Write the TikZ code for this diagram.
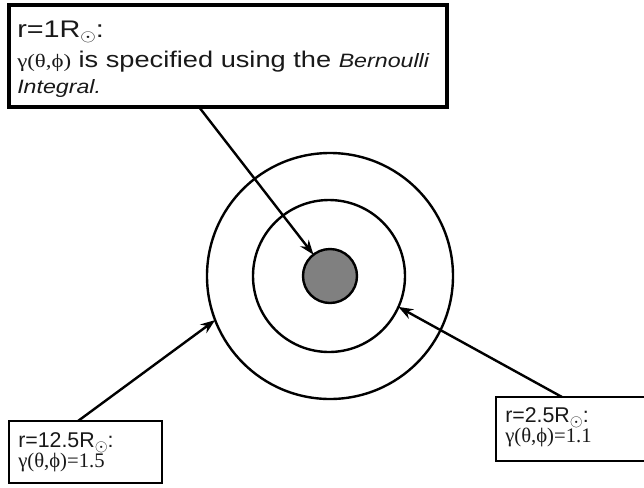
\documentclass[tikz,border=0pt]{standalone}
\usepackage{fontspec}
\usepackage{graphicx}
\setmainfont{Liberation Sans}
\newfontfamily\gr{Liberation Serif}
\usetikzlibrary{arrows.meta}
\newcommand{\sunsub}{\raisebox{-0.2em}{\scalebox{0.72}{$\odot$}}}
\begin{document}
\begin{tikzpicture}[x=0.75pt,y=-0.75pt,
  box/.style={draw=black, line width=2pt, fill=white, inner sep=0pt, outer sep=0pt},
  ring/.style={draw=black, line width=1.8pt, circle, inner sep=0pt, outer sep=0pt},
  arr/.style={line width=1.8pt, -{Stealth[length=11pt,width=8pt]}},
  txt/.style={anchor=base west, inner sep=0pt, text=black!90}]
\useasboundingbox (0,0) rectangle (644,487);
\fill[white] (0,0) rectangle (644,487);
% boxes
\node[box, line width=2.4pt, minimum width=328.5pt, minimum height=76.5pt] (topbox) at (228,56) {};
\node[box, minimum width=114.75pt, minimum height=46.5pt] (leftbox) at (85.5,452) {};
\node[box, minimum width=123pt, minimum height=48pt] (rightbox) at (578,429) {};
% circles
\node[ring, minimum size=184.5pt] (outer) at (330,276) {};
\node[ring, minimum size=114pt] (mid) at (329,276) {};
\node[ring, fill=black!50, minimum size=40.5pt] (inner) at (330,276) {};
% arrows
\coordinate (t1) at (199,107);
\coordinate (l1) at (78,421);
\coordinate (r1) at (562,397);
\draw[arr] (t1) -- (inner);
\draw[arr] (l1) -- (outer.201.5);
\draw[arr] (r1) -- (mid.336);
% texts
\node[txt] (ta) at (17,37) {\scalebox{1.2}[1]{\fontsize{18}{20}\selectfont r=1R\sunsub:}};
\node[txt] (tb) at (17,67) {\scalebox{1.2}[1]{\fontsize{17}{19}\selectfont{\gr\fontsize{14.25}{16}\selectfont γ(θ,ϕ)} is specified using the {\itshape\fontsize{14.5}{16}\selectfont Bernoulli}}};
\node[txt] (tc) at (17,93) {\scalebox{1.2}[1]{\fontsize{14.5}{16}\selectfont\itshape Integral.}};
\node[txt] (la) at (18,447) {\fontsize{16}{18}\selectfont r=12.5R\sunsub:};
\node[txt] (lb) at (18,467) {\gr\fontsize{15.5}{17}\selectfont γ(θ,ϕ)=1.5};
\node[txt] (ra) at (505,422) {\fontsize{16}{18}\selectfont r=2.5R\sunsub:};
\node[txt] (rb) at (505,442) {\gr\fontsize{15.5}{17}\selectfont γ(θ,ϕ)=1.1};
\end{tikzpicture}
\end{document}
